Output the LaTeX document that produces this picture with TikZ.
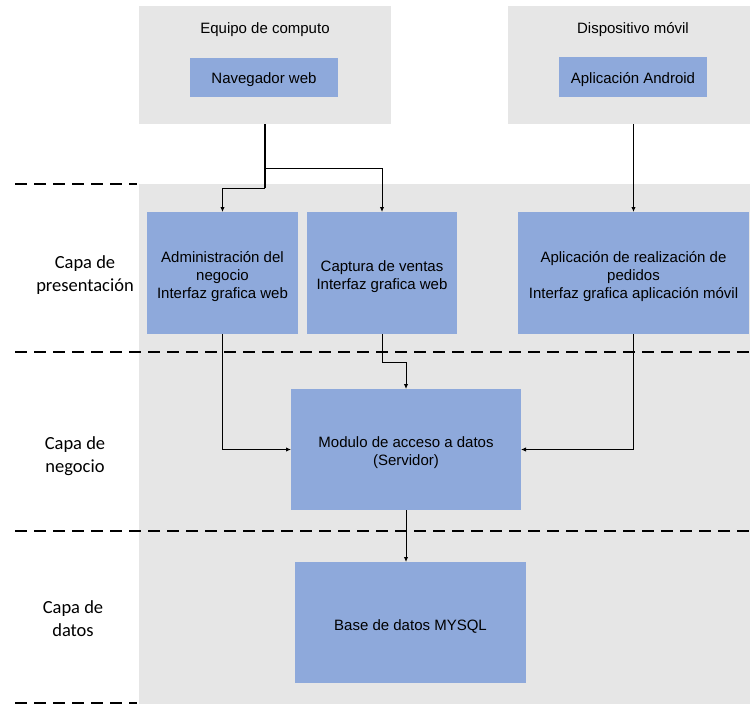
\documentclass[tikz,border=0pt]{standalone}
\usepackage{fontspec}
\setmainfont{Liberation Sans}
\newfontfamily\labelfont{Carlito}
\usetikzlibrary{arrows.meta}
\definecolor{panelgray}{RGB}{230,230,230}
\definecolor{boxblue}{RGB}{142,169,219}

\begin{document}
\begin{tikzpicture}[x=1pt,y=-1pt,
  panel/.style={fill=panelgray,draw=none,inner sep=0pt,outer sep=0pt},
  box/.style={fill=boxblue,draw=none,inner sep=0pt,outer sep=0pt},
  boxtext/.style={align=center,inner sep=0pt,font=\fontsize{15}{18}\selectfont},
  caption/.style={font=\fontsize{15}{18}\selectfont},
  layer/.style={font=\labelfont\fontsize{18.5}{23}\selectfont,align=center},
  sep/.style={line width=2.6pt,dash pattern=on 12pt off 7pt},
  link/.style={line width=1pt,-{Latex[length=5pt,width=4.5pt]}}]

  \useasboundingbox (0,0) rectangle (750,704);

  % grey panels
  \node[panel,minimum width=611pt,minimum height=520pt] (layers) at (444.5,444) {};
  \node[panel,minimum width=252pt,minimum height=118pt] (pc) at (265,65) {};
  \node[panel,minimum width=242pt,minimum height=118pt] (mob) at (629,65) {};

  % client devices
  \node[caption] (pctitle) at (265,30) {Equipo de computo};
  \node[caption] (mobtitle) at (633,30) {Dispositivo móvil};
  \node[box,minimum width=148pt,minimum height=39pt] (nav) at (264,77.5) {};
  \node[boxtext] (navtext) at ([yshift=-2.5pt]nav.center) {Navegador web};
  \node[box,minimum width=148pt,minimum height=40pt] (android) at (633,77) {};
  \node[boxtext] (androidtext) at ([yshift=-2.5pt]android.center) {Aplicación Android};

  % layer separators
  \draw[sep] (15,184) -- (137,184);
  \draw[sep] (15,352) -- (750,352);
  \draw[sep] (15,531) -- (750,531);
  \draw[sep] (15,703) -- (137,703);

  % layer names
  \node[layer] (lpres) at (85,275) {Capa de\\presentación};
  \node[layer] (lneg) at (75,456) {Capa de\\negocio};
  \node[layer] (ldat) at (73,619) {Capa de\\datos};

  % presentation layer
  \node[box,minimum width=151pt,minimum height=122pt] (adm) at (222.5,273) {};
  \node[boxtext] (admtext) at ([yshift=-3.5pt]adm.center)
    {Administración del\\negocio\\Interfaz grafica web};
  \node[box,minimum width=150pt,minimum height=122pt] (cap) at (382,273) {};
  \node[boxtext] (captext) at ([yshift=-3.5pt]cap.center)
    {Captura de ventas\\Interfaz grafica web};
  \node[box,minimum width=231pt,minimum height=122pt] (app) at (633.5,273) {};
  \node[boxtext] (apptext) at ([yshift=-3.5pt]app.center)
    {Aplicación de realización de\\pedidos\\Interfaz grafica aplicación móvil};

  % business and data layers
  \node[box,minimum width=230pt,minimum height=121pt] (mod) at (406,449.5) {};
  \node[boxtext] (modtext) at ([yshift=-3pt]mod.center)
    {Modulo de acceso a datos\\(Servidor)};
  \node[box,minimum width=231pt,minimum height=121pt] (db) at (410.5,622.5) {};
  \node[boxtext] (dbtext) at ([yshift=-3.5pt]db.center) {Base de datos MYSQL};

  % connectors
  \draw[line width=1.8pt] (pc.south) -- ([yshift=-64pt]pc.south);
  \draw[link] ([yshift=-64pt]pc.south) -| (adm.north);
  \draw[link] ([yshift=-44pt]pc.south) -| (cap.north);
  \draw[link] (mob.south -| app.north) -- (app.north);
  \draw[link] (adm.south) |- (mod.west);
  \draw[link] (cap.south) -- ([yshift=-28pt]cap.south) -| (mod.north);
  \draw[link] (app.south) |- (mod.east);
  \draw[link] (mod.south) -- (mod.south |- db.north);
\end{tikzpicture}
\end{document}
